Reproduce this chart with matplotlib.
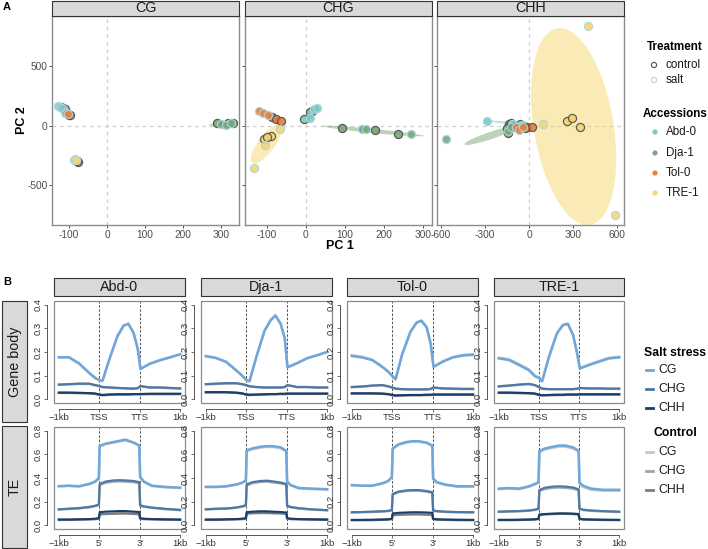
import numpy as np
import matplotlib
matplotlib.use("Agg")
import matplotlib.pyplot as plt
from matplotlib.patches import Rectangle, Polygon

plt.rcParams['font.family'] = ['Liberation Sans', 'DejaVu Sans']
plt.rcParams['axes.unicode_minus'] = False

W, H = 708, 549

# ---------------- Panel A data ----------------
accessions = ['Abd-0', 'Dja-1', 'Tol-0', 'TRE-1']
acc_colors = ['#80c8bf', '#7aa877', '#e8813a', '#f6d66c']
treatment = ['control'] * 3 + ['salt'] * 3   # per accession block
contexts = ['CG', 'CHG', 'CHH']

cg_pc1 = [-122, -115, -110, -128, -124, -119,
          290, 318, 330, 300, 312, 325,
          -100, -97, -103, -110, -107, -104,
          -78, -76, -80, -86, -84, -82]
cg_pc2 = [160, 148, 140, 168, 162, 152,
          22, 28, 28, 15, 10, 24,
          96, 92, 100, 112, 108, 104,
          -296, -300, -292, -288, -280, -284]

chg_pc1 = [-5, 15, 10, 10, 22, 28,
           93, 178, 236, 143, 154, 270,
           -88, -77, -65, -120, -109, -98,
           -108, -90, -100, -67, -105, -133]
chg_pc2 = [59, 126, 118, 66, 145, 155,
           -14, -36, -70, -28, -28, -70,
           78, 56, 42, 126, 112, 92,
           -109, -81, -95, -28, -160, -355]

chh_pc1 = [-134, -120, -60, -284, -107, -39,
           -152, -145, -110, -568, -140, -120,
           -16, 18, -30, -85, -66, -39,
           257, 293, 348, 405, 587, 93]
chh_pc2 = [20, 25, 15, 45, 20, 10,
           -20, -56, -5, -112, -40, -10,
           -5, -8, -20, -8, -36, -8,
           45, 70, -6, 840, -748, 17]

# confidence ellipses (per panel, per accession):
# centre, half extent in x, half extent in y, x offset of the topmost point
ell_cx = [[-119, 305, -104, -81], [13, 172, -92, -101], [-160, -260, -35, 305]]
ell_cy = [[154, 17, 104, -290], [108, -42, 85, -150], [27, -80, -15, -5]]
ell_xhalf = [[12, 38, 8, 7], [20, 130, 34, 40], [125, 180, 55, 290]]
ell_yhalf = [[22, 15, 14, 16], [55, 45, 63, 165], [20, 80, 18, 827]]
ell_xtop = [[-8, 22, -5, -2], [17, -120, -32, 31], [-108, 165, -20, -94]]

pc_xlims = [(-145, 347), (-156, 323), (-627, 648)]
pc_xticks = [[-100, 0, 100, 200, 300], [-100, 0, 100, 200, 300], [-600, -300, 0, 300, 600]]
pc_ylim = (-832, 924)
pc_yticks = [-500, 0, 500]

# ---------------- Panel B data ----------------
gene_x = [0, 0.25, 0.5, 0.75, 0.9, 1.0, 1.08, 1.25, 1.45, 1.6, 1.72, 1.85, 1.95, 2.02, 2.25, 2.5, 2.75, 3.0]
te_x = [0, 0.25, 0.5, 0.75, 0.9, 0.99, 1.01, 1.15, 1.35, 1.5, 1.65, 1.85, 1.99, 2.01, 2.1, 2.3, 2.6, 3.0]

# rows: Abd-0, Dja-1, Tol-0, TRE-1
gene_cg_salt = [
    [0.178, 0.178, 0.152, 0.112, 0.090, 0.081, 0.078, 0.170, 0.268, 0.312, 0.320, 0.280, 0.215, 0.128, 0.150, 0.165, 0.177, 0.190],
    [0.183, 0.175, 0.159, 0.123, 0.100, 0.082, 0.076, 0.180, 0.290, 0.335, 0.355, 0.320, 0.260, 0.135, 0.152, 0.173, 0.186, 0.200],
    [0.183, 0.177, 0.166, 0.137, 0.116, 0.098, 0.084, 0.194, 0.286, 0.325, 0.333, 0.305, 0.235, 0.137, 0.159, 0.177, 0.185, 0.188],
    [0.173, 0.166, 0.145, 0.123, 0.097, 0.090, 0.076, 0.180, 0.280, 0.315, 0.320, 0.273, 0.195, 0.130, 0.145, 0.159, 0.173, 0.177]]
gene_cg_ctrl = [
    [0.176, 0.177, 0.150, 0.110, 0.089, 0.080, 0.079, 0.168, 0.266, 0.310, 0.318, 0.279, 0.214, 0.129, 0.151, 0.166, 0.178, 0.191],
    [0.181, 0.174, 0.157, 0.121, 0.099, 0.081, 0.077, 0.178, 0.288, 0.333, 0.353, 0.319, 0.259, 0.136, 0.153, 0.174, 0.187, 0.201],
    [0.186, 0.180, 0.168, 0.139, 0.118, 0.099, 0.085, 0.192, 0.284, 0.323, 0.331, 0.304, 0.234, 0.138, 0.161, 0.179, 0.188, 0.191],
    [0.176, 0.170, 0.149, 0.126, 0.100, 0.092, 0.078, 0.178, 0.278, 0.313, 0.318, 0.272, 0.196, 0.132, 0.147, 0.162, 0.176, 0.180]]
gene_chg_salt = [
    [0.062, 0.064, 0.066, 0.066, 0.060, 0.056, 0.052, 0.050, 0.048, 0.047, 0.046, 0.045, 0.047, 0.056, 0.050, 0.050, 0.048, 0.046],
    [0.064, 0.066, 0.068, 0.068, 0.064, 0.060, 0.055, 0.052, 0.050, 0.050, 0.050, 0.050, 0.052, 0.060, 0.052, 0.052, 0.050, 0.050],
    [0.052, 0.054, 0.058, 0.060, 0.055, 0.050, 0.045, 0.043, 0.042, 0.042, 0.042, 0.042, 0.044, 0.050, 0.046, 0.045, 0.044, 0.044],
    [0.055, 0.058, 0.062, 0.065, 0.060, 0.052, 0.045, 0.043, 0.043, 0.043, 0.043, 0.043, 0.045, 0.048, 0.046, 0.046, 0.045, 0.045]]
gene_chg_ctrl = [
    [0.061, 0.063, 0.065, 0.065, 0.059, 0.055, 0.051, 0.049, 0.047, 0.046, 0.045, 0.044, 0.046, 0.055, 0.049, 0.049, 0.047, 0.045],
    [0.063, 0.065, 0.067, 0.067, 0.063, 0.059, 0.054, 0.051, 0.049, 0.049, 0.049, 0.049, 0.051, 0.059, 0.051, 0.051, 0.049, 0.049],
    [0.051, 0.053, 0.057, 0.059, 0.054, 0.049, 0.044, 0.042, 0.041, 0.041, 0.041, 0.041, 0.043, 0.049, 0.045, 0.044, 0.043, 0.043],
    [0.054, 0.057, 0.061, 0.064, 0.059, 0.051, 0.044, 0.042, 0.042, 0.042, 0.042, 0.042, 0.044, 0.047, 0.045, 0.045, 0.044, 0.044]]
gene_chh_salt = [
    [0.028, 0.028, 0.027, 0.026, 0.024, 0.020, 0.018, 0.020, 0.021, 0.021, 0.021, 0.022, 0.022, 0.022, 0.023, 0.023, 0.023, 0.023],
    [0.030, 0.030, 0.030, 0.028, 0.025, 0.020, 0.019, 0.020, 0.021, 0.022, 0.022, 0.023, 0.023, 0.024, 0.024, 0.024, 0.024, 0.024],
    [0.025, 0.025, 0.025, 0.024, 0.022, 0.018, 0.016, 0.017, 0.018, 0.018, 0.018, 0.019, 0.019, 0.020, 0.020, 0.020, 0.020, 0.020],
    [0.028, 0.028, 0.027, 0.026, 0.024, 0.019, 0.017, 0.018, 0.019, 0.019, 0.020, 0.020, 0.020, 0.021, 0.021, 0.021, 0.021, 0.021]]
gene_chh_ctrl = [
    [0.027, 0.027, 0.026, 0.025, 0.023, 0.019, 0.017, 0.019, 0.020, 0.020, 0.020, 0.021, 0.021, 0.021, 0.022, 0.022, 0.022, 0.022],
    [0.029, 0.029, 0.029, 0.027, 0.024, 0.019, 0.018, 0.019, 0.020, 0.021, 0.021, 0.022, 0.022, 0.023, 0.023, 0.023, 0.023, 0.023],
    [0.024, 0.024, 0.024, 0.023, 0.021, 0.017, 0.015, 0.016, 0.017, 0.017, 0.017, 0.018, 0.018, 0.019, 0.019, 0.019, 0.019, 0.019],
    [0.027, 0.027, 0.026, 0.025, 0.023, 0.018, 0.016, 0.017, 0.018, 0.018, 0.019, 0.019, 0.019, 0.020, 0.020, 0.020, 0.020, 0.020]]

te_cg_salt = [
    [0.331, 0.335, 0.330, 0.350, 0.370, 0.400, 0.672, 0.690, 0.705, 0.715, 0.725, 0.700, 0.676, 0.410, 0.370, 0.335, 0.325, 0.318],
    [0.325, 0.325, 0.330, 0.345, 0.360, 0.380, 0.635, 0.650, 0.665, 0.670, 0.670, 0.660, 0.630, 0.370, 0.340, 0.315, 0.310, 0.305],
    [0.340, 0.335, 0.335, 0.355, 0.375, 0.410, 0.650, 0.685, 0.705, 0.712, 0.712, 0.700, 0.675, 0.395, 0.365, 0.345, 0.330, 0.330],
    [0.310, 0.315, 0.310, 0.330, 0.350, 0.365, 0.630, 0.650, 0.665, 0.675, 0.675, 0.660, 0.630, 0.360, 0.335, 0.310, 0.300, 0.300]]
te_cg_ctrl = [
    [0.329, 0.333, 0.328, 0.348, 0.368, 0.398, 0.668, 0.686, 0.700, 0.711, 0.720, 0.697, 0.672, 0.406, 0.367, 0.332, 0.322, 0.315],
    [0.323, 0.323, 0.328, 0.343, 0.358, 0.377, 0.628, 0.643, 0.658, 0.663, 0.663, 0.653, 0.624, 0.366, 0.337, 0.312, 0.307, 0.302],
    [0.338, 0.333, 0.333, 0.352, 0.372, 0.406, 0.646, 0.681, 0.700, 0.707, 0.707, 0.695, 0.670, 0.391, 0.362, 0.342, 0.327, 0.327],
    [0.305, 0.310, 0.305, 0.325, 0.345, 0.360, 0.620, 0.642, 0.656, 0.666, 0.666, 0.650, 0.622, 0.352, 0.325, 0.300, 0.292, 0.292]]
te_chg_salt = [
    [0.135, 0.140, 0.145, 0.155, 0.165, 0.175, 0.350, 0.370, 0.380, 0.382, 0.380, 0.375, 0.365, 0.170, 0.160, 0.150, 0.140, 0.130],
    [0.135, 0.140, 0.142, 0.150, 0.160, 0.170, 0.345, 0.365, 0.375, 0.378, 0.372, 0.362, 0.350, 0.165, 0.155, 0.145, 0.135, 0.128],
    [0.110, 0.112, 0.115, 0.118, 0.122, 0.128, 0.265, 0.285, 0.295, 0.298, 0.298, 0.290, 0.280, 0.125, 0.120, 0.115, 0.112, 0.110],
    [0.115, 0.118, 0.120, 0.125, 0.132, 0.140, 0.300, 0.318, 0.328, 0.330, 0.328, 0.320, 0.305, 0.140, 0.132, 0.125, 0.120, 0.115]]
te_chg_ctrl = [
    [0.133, 0.138, 0.143, 0.152, 0.162, 0.172, 0.340, 0.360, 0.370, 0.372, 0.370, 0.366, 0.356, 0.167, 0.157, 0.147, 0.137, 0.128],
    [0.133, 0.138, 0.140, 0.148, 0.158, 0.167, 0.338, 0.357, 0.367, 0.370, 0.364, 0.355, 0.343, 0.162, 0.152, 0.142, 0.133, 0.126],
    [0.108, 0.110, 0.113, 0.116, 0.120, 0.126, 0.260, 0.280, 0.290, 0.293, 0.293, 0.285, 0.275, 0.123, 0.118, 0.113, 0.110, 0.108],
    [0.113, 0.116, 0.118, 0.123, 0.130, 0.137, 0.290, 0.308, 0.318, 0.320, 0.318, 0.310, 0.296, 0.137, 0.129, 0.122, 0.117, 0.112]]
te_chh_salt = [
    [0.048, 0.048, 0.050, 0.052, 0.055, 0.060, 0.110, 0.115, 0.118, 0.120, 0.120, 0.115, 0.112, 0.060, 0.055, 0.052, 0.050, 0.048],
    [0.048, 0.048, 0.050, 0.052, 0.055, 0.060, 0.110, 0.115, 0.118, 0.118, 0.115, 0.112, 0.108, 0.060, 0.055, 0.052, 0.050, 0.048],
    [0.045, 0.045, 0.046, 0.048, 0.050, 0.055, 0.100, 0.105, 0.108, 0.110, 0.110, 0.108, 0.105, 0.055, 0.050, 0.048, 0.046, 0.045],
    [0.045, 0.045, 0.046, 0.048, 0.050, 0.055, 0.090, 0.095, 0.098, 0.100, 0.100, 0.098, 0.095, 0.055, 0.050, 0.048, 0.046, 0.045]]
te_chh_ctrl = [
    [0.046, 0.046, 0.048, 0.050, 0.052, 0.056, 0.092, 0.096, 0.098, 0.100, 0.100, 0.097, 0.094, 0.056, 0.052, 0.050, 0.048, 0.046],
    [0.046, 0.046, 0.048, 0.050, 0.052, 0.056, 0.098, 0.102, 0.104, 0.104, 0.102, 0.100, 0.097, 0.056, 0.052, 0.050, 0.048, 0.046],
    [0.043, 0.043, 0.044, 0.046, 0.048, 0.052, 0.085, 0.089, 0.091, 0.092, 0.092, 0.090, 0.088, 0.052, 0.048, 0.046, 0.044, 0.043],
    [0.044, 0.044, 0.045, 0.047, 0.049, 0.053, 0.088, 0.092, 0.095, 0.097, 0.097, 0.095, 0.092, 0.053, 0.049, 0.047, 0.045, 0.044]]

salt_colors = ['#6fa7dc', '#4a78a8', '#173e6c']
ctrl_colors = ['#c8c8c8', '#a3a3a3', '#7c7c7c']
ctx_labels = ['CG', 'CHG', 'CHH']

# ---------------- helpers ----------------
fig = plt.figure(figsize=(W / 100, H / 100), dpi=100)


def ax_px(l, t, r, b):
    return fig.add_axes([l / W, 1 - b / H, (r - l) / W, (b - t) / H])


ov = fig.add_axes([0, 0, 1, 1], zorder=10)
ov.set_xlim(0, W)
ov.set_ylim(H, 0)
ov.axis('off')
ov.patch.set_alpha(0)


def strip(l, t, r, b, text, rot=0):
    ov.add_patch(Rectangle((l, t), r - l, b - t, facecolor='#d9d9d9', edgecolor='#333333', lw=0.8))
    ov.text((l + r) / 2, (t + b) / 2, text, ha='center', va='center', fontsize=10.3,
            rotation=rot, color='#1a1a1a')


def ellipse_xy(cx, cy, xhalf, yhalf, xtop, segments=101):
    t = np.linspace(0, 2 * np.pi, segments)
    b = np.sqrt(max(xhalf ** 2 - xtop ** 2, 0.0))
    x = cx + xtop * np.cos(t) + b * np.sin(t)
    y = cy + yhalf * np.cos(t)
    return np.column_stack([x, y])


# ---------------- Panel A ----------------
pc_data = [(cg_pc1, cg_pc2), (chg_pc1, chg_pc2), (chh_pc1, chh_pc2)]
a_boxes = [(52, 16, 239, 225), (245, 16, 432, 225), (437, 16, 624, 225)]
for k, (px, py) in enumerate(pc_data):
    l, t, r, b = a_boxes[k]
    ax = ax_px(l, t, r, b)
    ax.set_xlim(*pc_xlims[k])
    ax.set_ylim(*pc_ylim)
    ax.axhline(0, color='#cfcfcf', lw=0.9, ls=(0, (3, 3)), zorder=0)
    ax.axvline(0, color='#cfcfcf', lw=0.9, ls=(0, (3, 3)), zorder=0)
    px = np.array(px, float)
    py = np.array(py, float)
    for a in range(4):
        e = ellipse_xy(ell_cx[k][a], ell_cy[k][a], ell_xhalf[k][a], ell_yhalf[k][a], ell_xtop[k][a])
        ax.add_patch(Polygon(e, closed=True, facecolor=acc_colors[a], alpha=0.5, lw=0, zorder=1))
    for a in range(4):
        for j in range(6):
            i = a * 6 + j
            ec = '#4d4d4d' if treatment[j] == 'control' else '#a9d6e8'
            ax.scatter(px[i], py[i], s=34, facecolor=acc_colors[a], edgecolor=ec,
                       linewidths=0.9, zorder=3, alpha=0.9)
    ax.set_xticks(pc_xticks[k])
    ax.set_yticks(pc_yticks)
    if k > 0:
        ax.set_yticklabels([])
        ax.tick_params(axis='y', length=0)
    for s in ax.spines.values():
        s.set_color('#8c8c8c')
        s.set_linewidth(1.0)
    ax.tick_params(colors='#333333', labelcolor='#4d4d4d', labelsize=7.3, length=2.5, width=0.6, pad=0.8)
    strip(l, 1, r, 16, contexts[k])

ov.text(340, 246, 'PC 1', ha='center', va='center', fontsize=9, fontweight='bold')
ov.text(22, 120, 'PC 2', ha='center', va='center', fontsize=9, fontweight='bold', rotation=90)
ov.text(3, 7, 'A', ha='left', va='center', fontsize=8, fontweight='bold')

# Legend A
ov.text(647, 47, 'Treatment', ha='left', va='center', fontsize=8.4, fontweight='bold')
for yy, lab, ec in [(65, 'control', '#4d4d4d'), (80, 'salt', '#a9d6e8')]:
    ov.scatter(654, yy, s=14, facecolor='none', edgecolor=ec, linewidths=0.8)
    ov.text(666, yy, lab, ha='left', va='center', fontsize=8.4, color='#1a1a1a')
ov.text(643, 114, 'Accessions', ha='left', va='center', fontsize=8.4, fontweight='bold')
for a, yy in enumerate([132, 153, 173, 193]):
    ov.scatter(655, yy, s=14, facecolor=acc_colors[a], edgecolor='none')
    ov.text(666, yy, accessions[a], ha='left', va='center', fontsize=8.4, color='#1a1a1a')

# ---------------- Panel B ----------------
ov.text(3, 282, 'B', ha='left', va='center', fontsize=8, fontweight='bold')
cols = [(54, 185), (201, 332), (347, 478), (494, 624)]
rows = [(301, 403), (427, 529)]
gene_sets = [(gene_cg_salt, gene_cg_ctrl), (gene_chg_salt, gene_chg_ctrl), (gene_chh_salt, gene_chh_ctrl)]
te_sets = [(te_cg_salt, te_cg_ctrl), (te_chg_salt, te_chg_ctrl), (te_chh_salt, te_chh_ctrl)]
salt_lw = [1.8, 1.5, 1.5]
for ri, (t, b) in enumerate(rows):
    for ci, (l, r) in enumerate(cols):
        ax = ax_px(l, t, r, b)
        if ri == 0:
            xs, sets, ymax, yt = gene_x, gene_sets, 0.4, [0, 0.1, 0.2, 0.3, 0.4]
            xl = ['\u22121kb', 'TSS', 'TTS', '1kb']
        else:
            xs, sets, ymax, yt = te_x, te_sets, 0.8, [0, 0.2, 0.4, 0.6, 0.8]
            xl = ['\u22121kb', "5'", "3'", '1kb']
        ax.set_xlim(-0.12, 3.12)
        ax.set_ylim(-0.04 * ymax, ymax * 1.04)
        for c in range(3):
            ax.plot(xs, sets[c][1][ci], color=ctrl_colors[c], lw=1.8, zorder=2)
        for c in range(3):
            ax.plot(xs, sets[c][0][ci], color=salt_colors[c], lw=salt_lw[c], zorder=3)
        ax.axvline(1, color='#333333', lw=0.6, ls=(0, (3, 2)), zorder=1)
        ax.axvline(2, color='#333333', lw=0.6, ls=(0, (3, 2)), zorder=1)
        ax.add_patch(Rectangle((0, 0), 1, 1, transform=ax.transAxes, fill=False,
                               edgecolor='#8a8a8a', lw=0.9, clip_on=False, zorder=5))
        for s in ['top', 'right']:
            ax.spines[s].set_visible(False)
        ax.spines['left'].set_position(('outward', 5))
        ax.spines['bottom'].set_position(('outward', 4))
        ax.spines['left'].set_bounds(0, ymax)
        ax.spines['bottom'].set_bounds(0, 3)
        for s in ['left', 'bottom']:
            ax.spines[s].set_color('#555555')
            ax.spines[s].set_linewidth(0.7)
        ax.set_xticks([0, 1, 2, 3])
        ax.set_xticklabels(xl)
        ax.set_yticks(yt)
        ax.set_yticklabels(['%.1f' % v for v in yt], rotation=90, va='center')
        ax.tick_params(colors='#555555', labelcolor='#333333', labelsize=6.8, length=2.5, width=0.6, pad=1)
        if ri == 0:
            strip(l, 278, r, 296, accessions[ci])
strip(2, 301, 27, 422, 'Gene body', rot=90)
strip(2, 426, 27, 548, 'TE', rot=90)

# Legend B
ov.text(644, 353, 'Salt stress', ha='left', va='center', fontsize=8.8, fontweight='bold')
for c, yy in enumerate([370, 389, 408]):
    ov.plot([646, 653], [yy, yy], color=salt_colors[c], lw=2)
    ov.text(658, yy, ctx_labels[c], ha='left', va='center', fontsize=8.8, color='#1a1a1a')
ov.text(653, 433, 'Control', ha='left', va='center', fontsize=8.8, fontweight='bold')
for c, yy in enumerate([452, 471, 490]):
    ov.plot([646, 653], [yy, yy], color=ctrl_colors[c], lw=2)
    ov.text(658, yy, ctx_labels[c], ha='left', va='center', fontsize=8.8, color='#1a1a1a')

fig.savefig('out.png', dpi=100)
